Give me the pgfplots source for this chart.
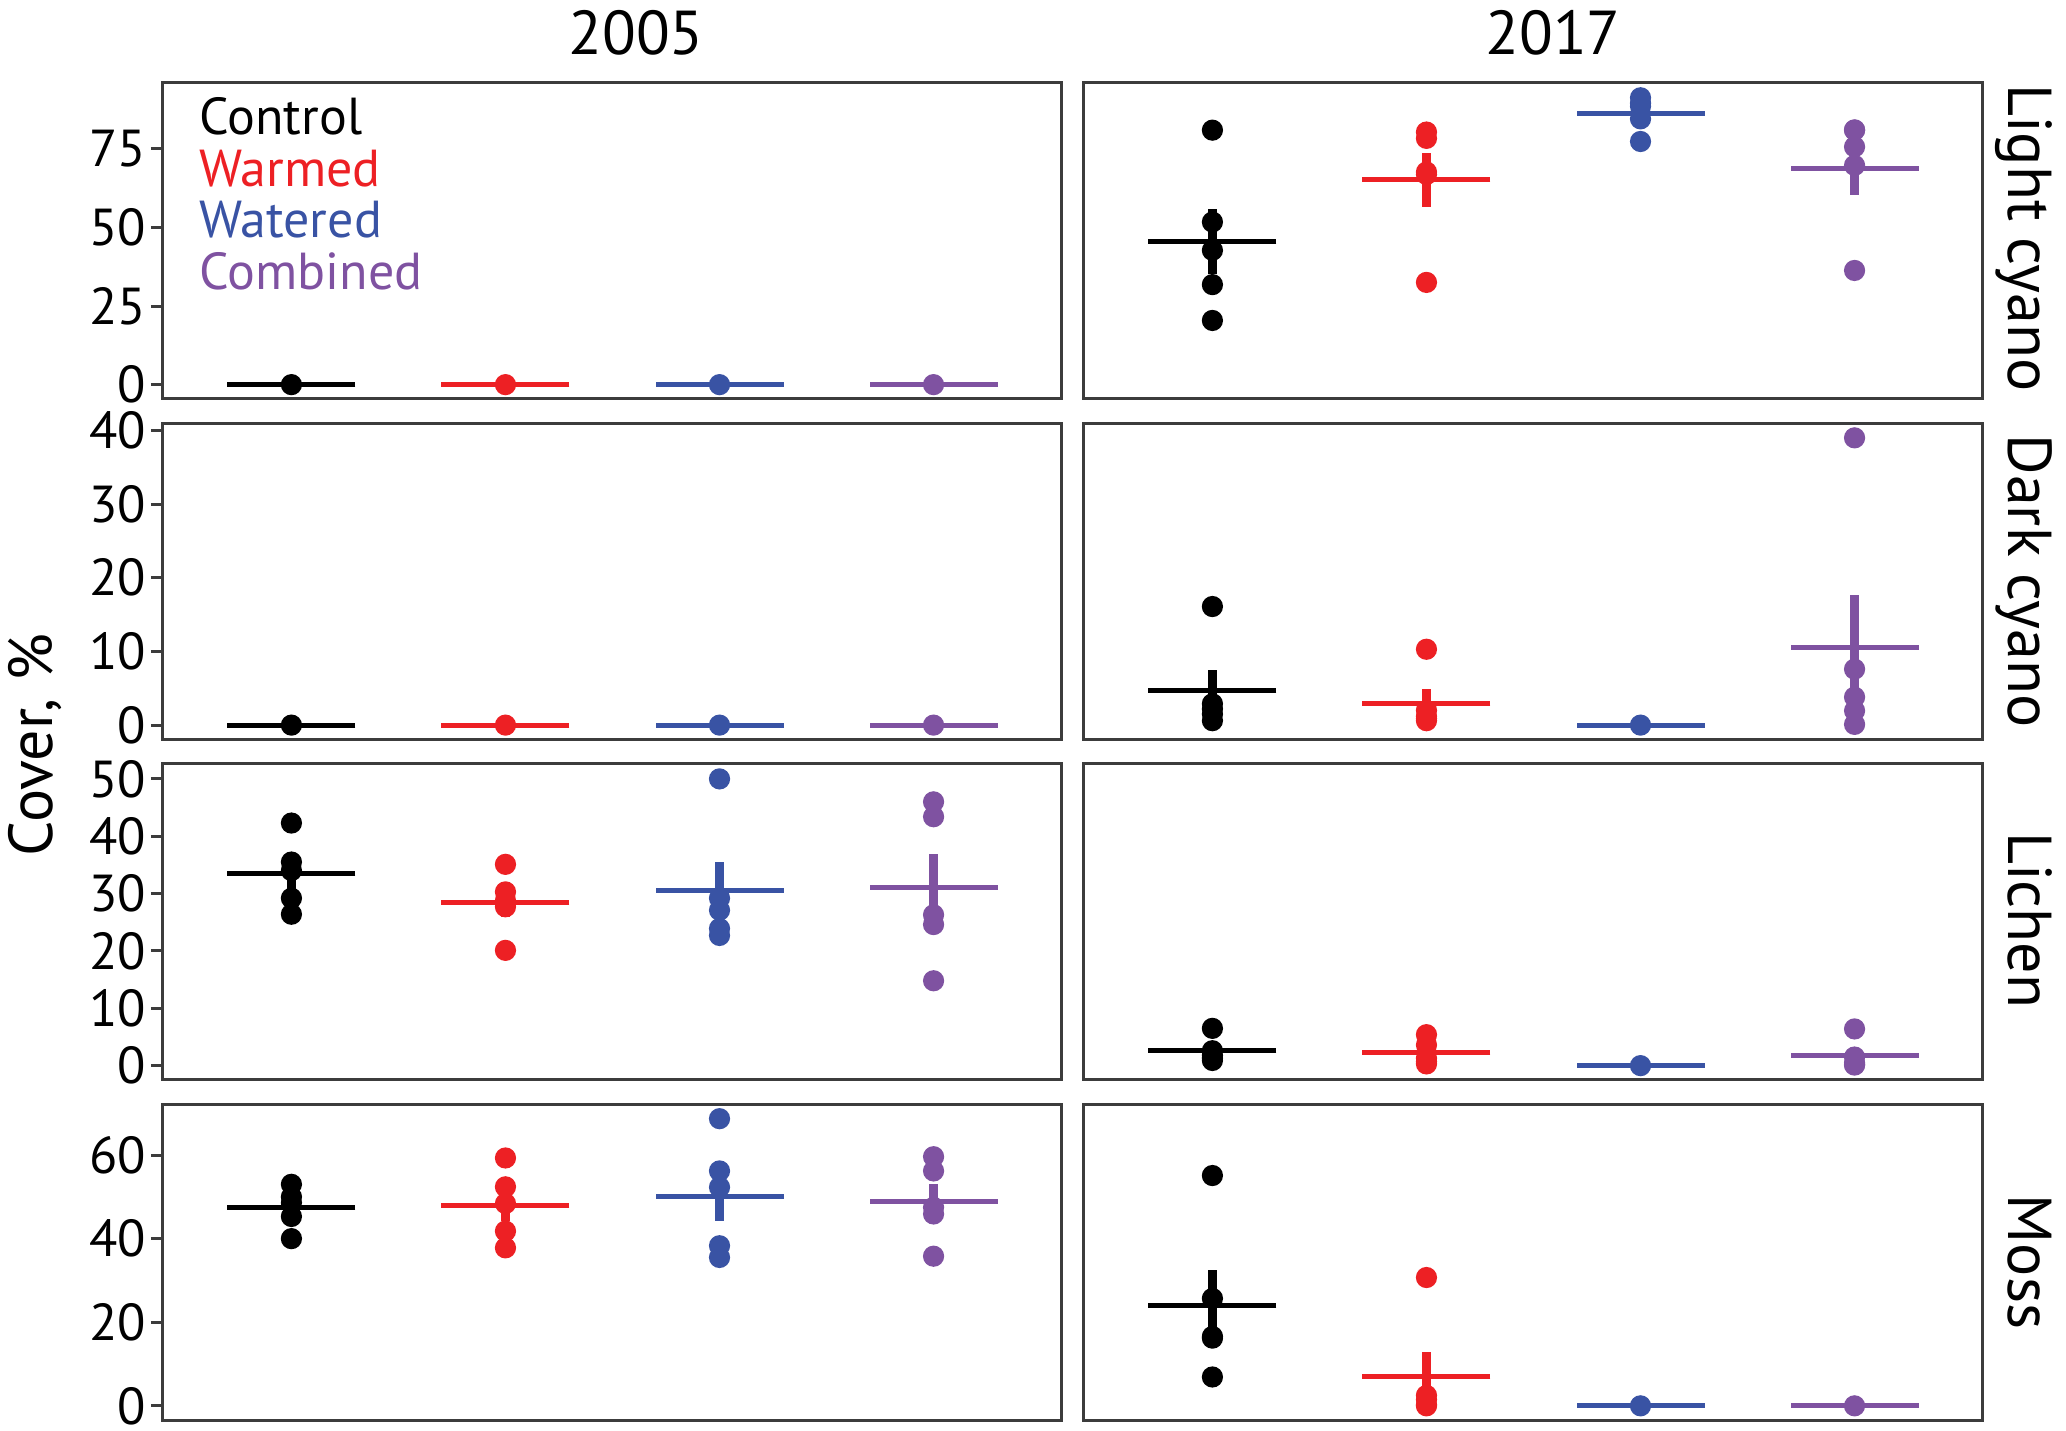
\documentclass[border=0pt]{standalone}
\usepackage{fontspec}
\setmainfont{PT Sans}
\usepackage{pgfplots}
\pgfplotsset{compat=1.18}
\usepgfplotslibrary{groupplots}

\definecolor{ctrl}{RGB}{0,0,0}
\definecolor{warm}{RGB}{237,32,36}
\definecolor{water}{RGB}{57,83,164}
\definecolor{comb}{RGB}{127,82,161}
\definecolor{axgray}{RGB}{60,60,60}

\newcommand{\tickfont}{\fontsize{13}{13}\selectfont}
\newcommand{\bigfont}{\fontsize{15.5}{15.5}\selectfont}

\pgfplotsset{
  pts/.style={scatter, only marks, scatter src=explicit symbolic, mark size=2.45pt,
    scatter/classes={
      c={mark=*,fill=ctrl,draw=ctrl},
      w={mark=*,fill=warm,draw=warm},
      t={mark=*,fill=water,draw=water},
      b={mark=*,fill=comb,draw=comb}}},
  summ/.style={color=#1, mark=-, mark size=16pt, mark options={line width=1.25pt, solid},
    error bars/.cd, y dir=both, y explicit, error mark=none,
    error bar style={line width=2.4pt, color=#1}},
  r1/.style={ymin=-4.56, ymax=95.9, ytick={0,25,50,75}},
  r2/.style={ymin=-1.95, ymax=40.95, ytick={0,10,20,30,40}},
  r3/.style={ymin=-2.5, ymax=52.6, ytick={0,10,20,30,40,50}},
  r4/.style={ymin=-3.5, ymax=72.1, ytick={0,20,40,60}},
  rc/.style={ytick=\empty},
}

\begin{document}
\begin{tikzpicture}
\begin{groupplot}[
  group style={group size=2 by 4, horizontal sep=5.5pt, vertical sep=6.125pt},
  scale only axis, width=224.75pt, height=79pt,
  xmin=0.4, xmax=4.6, xtick=\empty, clip=false,
  axis line style={draw=axgray, line width=0.75pt},
  ytick pos=left, tick align=outside, major tick length=3pt,
  ytick style={draw=axgray, line width=0.75pt},
  yticklabel style={font=\tickfont, inner sep=0pt, xshift=-1pt},
  /pgf/number format/assume math mode=true,
]
% ---- Light cyano
\nextgroupplot[r1]
\addplot[pts] table[meta=g] {
x y g
1 0 c
2 0 w
3 0 t
4 0 b
};
\addplot[summ=ctrl] coordinates {(1,0)};
\addplot[summ=warm] coordinates {(2,0)};
\addplot[summ=water] coordinates {(3,0)};
\addplot[summ=comb] coordinates {(4,0)};

\nextgroupplot[r1, rc]
\addplot[pts] table[meta=g] {
x y g
1 80.9 c
1 51.7 c
1 42.7 c
1 31.8 c
1 20.4 c
2 80.3 w
2 78.3 w
2 67.6 w
2 66.8 w
2 32.5 w
3 91.2 t
3 89.5 t
3 88.5 t
3 84.5 t
3 77.3 t
4 81.0 b
4 80.9 b
4 75.6 b
4 69.7 b
4 36.3 b
};
\addplot[summ=ctrl] coordinates {(1,45.5) +- (0,10.3)};
\addplot[summ=warm] coordinates {(2,65.1) +- (0,8.6)};
\addplot[summ=water] coordinates {(3,86.2) +- (0,2.5)};
\addplot[summ=comb] coordinates {(4,68.7) +- (0,8.4)};

% ---- Dark cyano
\nextgroupplot[r2]
\addplot[pts] table[meta=g] {
x y g
1 0 c
2 0 w
3 0 t
4 0 b
};
\addplot[summ=ctrl] coordinates {(1,0)};
\addplot[summ=warm] coordinates {(2,0)};
\addplot[summ=water] coordinates {(3,0)};
\addplot[summ=comb] coordinates {(4,0)};

\nextgroupplot[r2, rc]
\addplot[pts] table[meta=g] {
x y g
1 16.1 c
1 2.9 c
1 2.2 c
1 1.5 c
1 0.6 c
2 10.3 w
2 2.0 w
2 1.2 w
2 0.9 w
2 0.6 w
3 0 t
4 39.0 b
4 7.6 b
4 3.8 b
4 1.95 b
4 0.1 b
};
\addplot[summ=ctrl] coordinates {(1,4.66) +- (0,2.89)};
\addplot[summ=warm] coordinates {(2,3.0) +- (0,1.84)};
\addplot[summ=water] coordinates {(3,0)};
\addplot[summ=comb] coordinates {(4,10.49) +- (0,7.23)};

% ---- Lichen
\nextgroupplot[r3]
\addplot[pts] table[meta=g] {
x y g
1 42.3 c
1 35.5 c
1 34.0 c
1 29.2 c
1 26.4 c
2 35.1 w
2 30.3 w
2 28.8 w
2 27.7 w
2 20.1 w
3 50.0 t
3 29.2 t
3 27.1 t
3 23.9 t
3 22.7 t
4 46.0 b
4 43.4 b
4 26.3 b
4 24.6 b
4 14.8 b
};
\addplot[summ=ctrl] coordinates {(1,33.48) +- (0,2.74)};
\addplot[summ=warm] coordinates {(2,28.4) +- (0,2.43)};
\addplot[summ=water] coordinates {(3,30.58) +- (0,4.99)};
\addplot[summ=comb] coordinates {(4,31.02) +- (0,5.93)};

\nextgroupplot[r3, rc]
\addplot[pts] table[meta=g] {
x y g
1 6.5 c
1 2.6 c
1 1.8 c
1 1.3 c
1 0.9 c
2 5.4 w
2 3.6 w
2 1.3 w
2 0.7 w
2 0.3 w
3 0 t
4 6.4 b
4 1.5 b
4 0.5 b
4 0.2 b
4 0.1 b
};
\addplot[summ=ctrl] coordinates {(1,2.62) +- (0,1.01)};
\addplot[summ=warm] coordinates {(2,2.26) +- (0,0.97)};
\addplot[summ=water] coordinates {(3,0)};
\addplot[summ=comb] coordinates {(4,1.74) +- (0,1.19)};

% ---- Moss
\nextgroupplot[r4]
\addplot[pts] table[meta=g] {
x y g
1 53.0 c
1 50.0 c
1 48.6 c
1 45.3 c
1 40.0 c
2 59.3 w
2 52.4 w
2 48.4 w
2 41.8 w
2 37.8 w
3 68.7 t
3 56.2 t
3 52.3 t
3 38.3 t
3 35.5 t
4 59.6 b
4 56.2 b
4 47.5 b
4 45.9 b
4 35.8 b
};
\addplot[summ=ctrl] coordinates {(1,47.38) +- (0,2.22)};
\addplot[summ=warm] coordinates {(2,47.94) +- (0,3.8)};
\addplot[summ=water] coordinates {(3,50.2) +- (0,6.08)};
\addplot[summ=comb] coordinates {(4,49.0) +- (0,4.18)};

\nextgroupplot[r4, rc]
\addplot[pts] table[meta=g] {
x y g
1 55.1 c
1 25.7 c
1 16.6 c
1 16.2 c
1 6.9 c
2 30.7 w
2 2.5 w
2 1.5 w
2 0.3 w
2 0.0 w
3 0 t
4 0 b
};
\addplot[summ=ctrl] coordinates {(1,24.1) +- (0,8.3)};
\addplot[summ=warm] coordinates {(2,7.0) +- (0,5.94)};
\addplot[summ=water] coordinates {(3,0)};
\addplot[summ=comb] coordinates {(4,0)};
\end{groupplot}

% annotations in pixel units of the reference (origin top left)
\begin{scope}[x=0.25pt, y=-0.25pt, shift={(group c1r1.north west)}, shift={(-163,-83)}]
  \node[anchor=base, inner sep=0pt, font=\bigfont] at (636,55) {2005};
  \node[anchor=base, inner sep=0pt, font=\bigfont] at (1553,55) {2017};
  \node[anchor=base west, inner sep=0pt, font=\tickfont, text=ctrl] at (199,135) {Control};
  \node[anchor=base west, inner sep=0pt, font=\tickfont, text=warm] at (199,187) {Warmed};
  \node[anchor=base west, inner sep=0pt, font=\tickfont, text=water] at (199,238) {Watered};
  \node[anchor=base west, inner sep=0pt, font=\tickfont, text=comb] at (199,290) {Combined};
  \node[anchor=base, rotate=90, inner sep=0pt, font=\bigfont] at (53,745) {Cover, \%};
  \node[anchor=base, rotate=-90, inner sep=0pt, font=\bigfont] at (2008,238) {Light cyano};
  \node[anchor=base, rotate=-90, inner sep=0pt, font=\bigfont] at (2008,581) {Dark cyano};
  \node[anchor=base, rotate=-90, inner sep=0pt, font=\bigfont] at (2008,920) {Lichen};
  \node[anchor=base, rotate=-90, inner sep=0pt, font=\bigfont] at (2008,1262) {Moss};
  \pgfresetboundingbox
  \path[use as bounding box] (0,0) rectangle (2066,1431);
\end{scope}
\end{tikzpicture}
\end{document}
